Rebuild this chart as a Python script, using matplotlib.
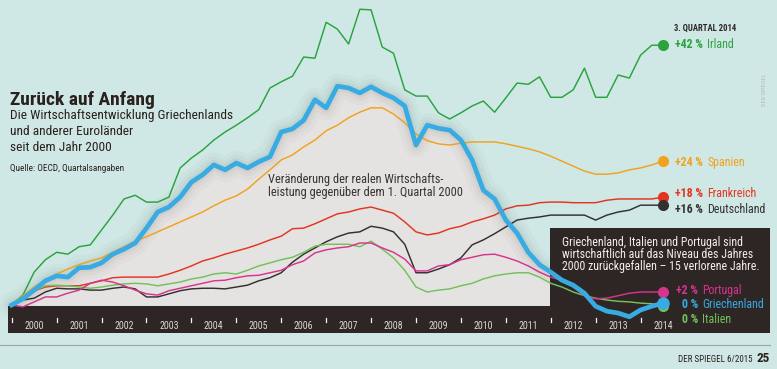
import numpy as np
import matplotlib
matplotlib.use("Agg")
import matplotlib.pyplot as plt
import matplotlib.transforms as mtransforms
from matplotlib import font_manager
from matplotlib.patches import Rectangle

# real GDP, change against Q1 2000 in percent, quarterly Q1 2000 .. Q3 2014
irland = [0.0, 1.6, 5.3, 7.3, 8.5, 8.2, 9.4, 9.7, 12.1, 14.5,
          17.1, 17.7, 16.6, 16.6, 17.4, 22.1, 23.7, 25.0, 26.6, 27.9,
          29.0, 30.2, 31.5, 35.0, 36.0, 36.9, 40.0, 39.8, 45.6, 44.5,
          42.1, 47.7, 47.6, 41.6, 40.6, 34.7, 33.7, 33.7, 31.0, 30.0,
          31.0, 32.1, 32.9, 31.1, 33.4, 35.8, 35.6, 36.8, 33.5, 33.5,
          34.7, 38.2, 33.5, 33.5, 37.1, 36.6, 40.3, 41.9, 41.9]
spanien = [0.0, 1.5, 2.9, 4.0, 5.0, 5.8, 6.5, 7.1, 7.6, 8.5,
           9.4, 10.3, 11.0, 11.8, 12.6, 13.4, 14.2, 15.0, 16.0, 16.9,
           17.6, 18.7, 20.3, 21.8, 23.4, 24.2, 25.5, 26.6, 28.1, 29.0,
           30.2, 31.1, 31.8, 31.8, 30.8, 29.4, 27.6, 26.5, 26.0, 25.8,
           26.1, 26.3, 26.3, 26.3, 26.0, 25.6, 25.2, 24.7, 24.0, 23.2,
           22.4, 21.6, 21.1, 21.1, 21.3, 21.8, 22.1, 22.6, 23.2]
frankreich = [0.0, 1.3, 2.3, 2.9, 3.1, 3.1, 3.1, 3.5, 3.9, 4.4,
              4.5, 4.5, 4.5, 4.5, 5.0, 5.6, 6.3, 7.1, 7.6, 8.2,
              8.7, 9.2, 9.8, 10.5, 11.1, 12.3, 12.4, 13.1, 13.9, 14.7,
              15.0, 15.5, 15.8, 15.3, 14.8, 13.4, 11.8, 11.3, 11.6, 12.3,
              12.7, 13.4, 13.9, 14.5, 15.5, 16.0, 16.1, 16.5, 16.6, 16.6,
              16.5, 16.5, 16.5, 16.9, 17.1, 17.1, 17.1, 17.1, 17.4]
deutschland = [0.0, 0.8, 1.1, 2.1, 2.7, 2.6, 2.6, 2.4, 2.4, 2.7,
               2.9, 2.6, 1.3, 1.3, 1.8, 2.3, 2.6, 2.7, 2.7, 2.6,
               2.9, 3.2, 3.9, 4.4, 5.2, 6.9, 8.2, 9.2, 10.2, 11.0,
               11.6, 11.8, 12.7, 12.4, 11.8, 9.8, 5.2, 5.2, 5.8, 6.5,
               7.6, 9.7, 10.5, 11.5, 12.6, 13.7, 14.0, 14.2, 14.5, 14.5,
               14.5, 14.5, 13.7, 14.5, 15.0, 15.3, 16.1, 16.1, 16.1]
portugal = [0.0, -0.3, 0.5, 1.3, 1.3, 1.9, 2.4, 3.5, 4.0, 3.7,
            3.1, 2.4, 1.8, 1.6, 2.3, 2.7, 3.1, 3.5, 3.9, 4.0,
            4.4, 4.7, 4.8, 5.2, 5.6, 6.5, 7.1, 8.4, 8.9, 9.2,
            9.4, 10.0, 10.0, 9.2, 8.5, 7.4, 5.5, 5.5, 6.3, 6.5,
            7.3, 7.7, 8.1, 8.2, 7.7, 7.1, 6.3, 5.3, 4.5, 4.0,
            2.9, 1.5, 1.0, 1.1, 1.5, 1.9, 2.1, 2.1, 2.1]
italien = [0.0, 1.3, 2.3, 3.1, 3.2, 3.1, 2.9, 2.7, 2.9, 3.2,
           3.4, 3.5, 3.4, 3.1, 3.4, 3.7, 4.2, 4.5, 5.0, 5.2,
           5.0, 5.6, 6.3, 6.8, 7.3, 7.7, 8.5, 9.5, 9.8, 9.8,
           9.8, 9.4, 10.3, 9.0, 7.6, 5.6, 2.9, 2.1, 2.4, 2.6,
           3.1, 3.5, 4.2, 4.7, 5.0, 5.2, 5.2, 4.5, 3.5, 2.9,
           2.1, 1.5, 1.1, 0.8, 0.6, 0.5, 0.3, 0.2, -0.2]
griechenland = [0.0, 1.0, 2.4, 3.9, 4.7, 4.5, 6.0, 6.1, 6.8, 8.2,
                9.0, 10.0, 12.4, 15.0, 15.8, 17.4, 19.8, 21.0, 22.6, 21.8,
                22.9, 22.1, 23.1, 23.9, 27.9, 28.4, 29.8, 33.1, 31.8, 35.3,
                35.0, 34.2, 35.2, 34.2, 33.4, 32.1, 25.8, 29.0, 28.5, 28.2,
                26.6, 23.4, 18.5, 17.1, 13.7, 11.6, 8.5, 6.5, 5.3, 4.0,
                3.2, 1.9, -0.2, -1.0, -1.3, -1.9, -0.8, -0.2, 0.3]

years = list(range(2000, 2015))

# (values, colour)
series = [
    (irland, "#2aa33e"),
    (spanien, "#f0a21e"),
    (frankreich, "#e3341f"),
    (deutschland, "#333030"),
    (italien, "#72c15c"),
    (portugal, "#d6348d"),
]
greece_color = "#38abe3"

# pick a narrow sans if there is one
installed = {f.name for f in font_manager.fontManager.ttflist}
font = "DejaVu Sans"
for fam in ["Roboto Condensed", "Liberation Sans Narrow", "Open Sans Condensed", "Roboto"]:
    if fam in installed:
        font = fam
        break
plt.rcParams["font.family"] = font

W, H = 777, 369
fig = plt.figure(figsize=(W / 100, H / 100), dpi=100)
fig.patch.set_facecolor("#cfe8e5")

# pixel transform (origin top left) for the layout items
pix = mtransforms.Affine2D().scale(1 / W, -1 / H).translate(0, 1) + fig.transFigure

ax = fig.add_axes([0, 0, 1, 1])
ax.set_facecolor("none")
ax.axis("off")
# quarter index on x, percent on y
x0, dx = 11.7, 11.23
y0, dy = 305.0, 6.2
ax.set_xlim(-x0 / dx, (W - x0) / dx)
ax.set_ylim((y0 - H) / dy, y0 / dy)

q = np.arange(len(griechenland))

# grey "mountain" under the Greek line, with a soft shadow along the edge
ax.fill_between(q, griechenland, 0, color="#e5e3e1", lw=0, zorder=1)
for lw, a in [(18, 0.035), (12, 0.05), (7, 0.07)]:
    ax.plot(q, griechenland, color="#6b6866", lw=lw, alpha=a,
            solid_joinstyle="round", solid_capstyle="round", zorder=1.5)

# dark band for the years and the dark note box
ax.add_patch(Rectangle((8, 305.5), 762, 27.5, transform=pix,
                       color="#2d2624", lw=0, zorder=2))
ax.add_patch(Rectangle((550, 228), 220, 80, transform=pix,
                       color="#2d2624", lw=0, zorder=2))

# year ticks and labels
band = mtransforms.blended_transform_factory(ax.transData, pix)
for i, yr in enumerate(years):
    ax.plot([4 * i, 4 * i], [318, 322], color="#f2f2f2", lw=0.9,
            transform=band, zorder=3)
    ax.text(4 * i + 2, 326, str(yr), transform=band, ha="center",
            va="center", fontsize=7.2, color="#d9d5d0", zorder=3)

# country lines
for vals, col in series:
    ax.plot(q, vals, color=col, lw=1.05, zorder=3)
    ax.plot(q[-1], vals[-1], "o", ms=7, color=col, zorder=5)
ax.plot(q, griechenland, color=greece_color, lw=3.4,
        solid_joinstyle="round", zorder=4)
ax.plot(q[-1], griechenland[-1], "o", ms=8, color=greece_color, zorder=5)

# end labels
end_labels = [
    ("+42 %", "Irland", "#2aa33e", 48, 703, 707),
    ("+24 %", "Spanien", "#f0a21e", 166, 703, 707),
    ("+18 %", "Frankreich", "#e3341f", 197, 703, 707),
    ("+16 %", "Deutschland", "#333030", 213, 703, 707),
    ("+2 %", "Portugal", "#d6348d", 294, 698, 702),
    ("0 %", "Griechenland", greece_color, 308, 698, 702),
    ("0 %", "Italien", "#72c15c", 323, 698, 702),
]
for num, name, col, yb, xn, xl in end_labels:
    ax.text(xn, yb, num, transform=pix, ha="right", va="baseline",
            fontsize=8.6, fontweight="bold", color=col, zorder=6)
    ax.text(xl, yb, name, transform=pix, ha="left", va="baseline",
            fontsize=8.6, color=col, zorder=6)
ax.text(674, 31, "3. QUARTAL 2014", transform=pix, va="baseline",
        fontsize=6.2, fontweight="bold", color="#2d2624")

# titles and notes
ax.text(10, 105, "Zurück auf Anfang", transform=pix, va="baseline",
        fontsize=14, fontweight="bold", color="#2a201d")
for yb, line in [(119, "Die Wirtschaftsentwicklung Griechenlands"),
                 (135, "und anderer Euroländer"),
                 (151, "seit dem Jahr 2000")]:
    ax.text(10, yb, line, transform=pix, va="baseline", fontsize=9.6,
            color="#2a201d")
ax.text(10, 171, "Quelle: OECD, Quartalsangaben", transform=pix,
        va="baseline", fontsize=6.7, color="#2a201d")

ax.text(268, 183, "Veränderung der realen Wirtschafts-", transform=pix,
        va="baseline", fontsize=8.9, color="#3a3330", zorder=6)
ax.text(268, 196, "leistung gegenüber dem 1. Quartal 2000", transform=pix,
        va="baseline", fontsize=8.9, color="#3a3330", zorder=6)

for yb, line in [(246, "Griechenland, Italien und Portugal sind"),
                 (258, "wirtschaftlich auf das Niveau des Jahres"),
                 (270, "2000 zurückgefallen – 15 verlorene Jahre.")]:
    ax.text(562, yb, line, transform=pix, va="baseline", fontsize=8.6,
            color="#f2efec", zorder=6)

# footer
ax.plot([0, 770], [345, 345], color="#9aa6a4", lw=0.8, transform=pix)
ax.text(752, 362, "DER SPIEGEL 6/2015", transform=pix, ha="right",
        va="baseline", fontsize=6.5, color="#2a201d")
ax.text(770, 362, "25", transform=pix, ha="right", va="baseline",
        fontsize=9.5, fontweight="bold", color="#2a201d")
ax.text(765, 90, "DER SPIEGEL", transform=pix, ha="center", va="center",
        rotation=90, fontsize=4.5, color="#b3bcbb")

fig.savefig("out.png", dpi=100, facecolor=fig.get_facecolor())
